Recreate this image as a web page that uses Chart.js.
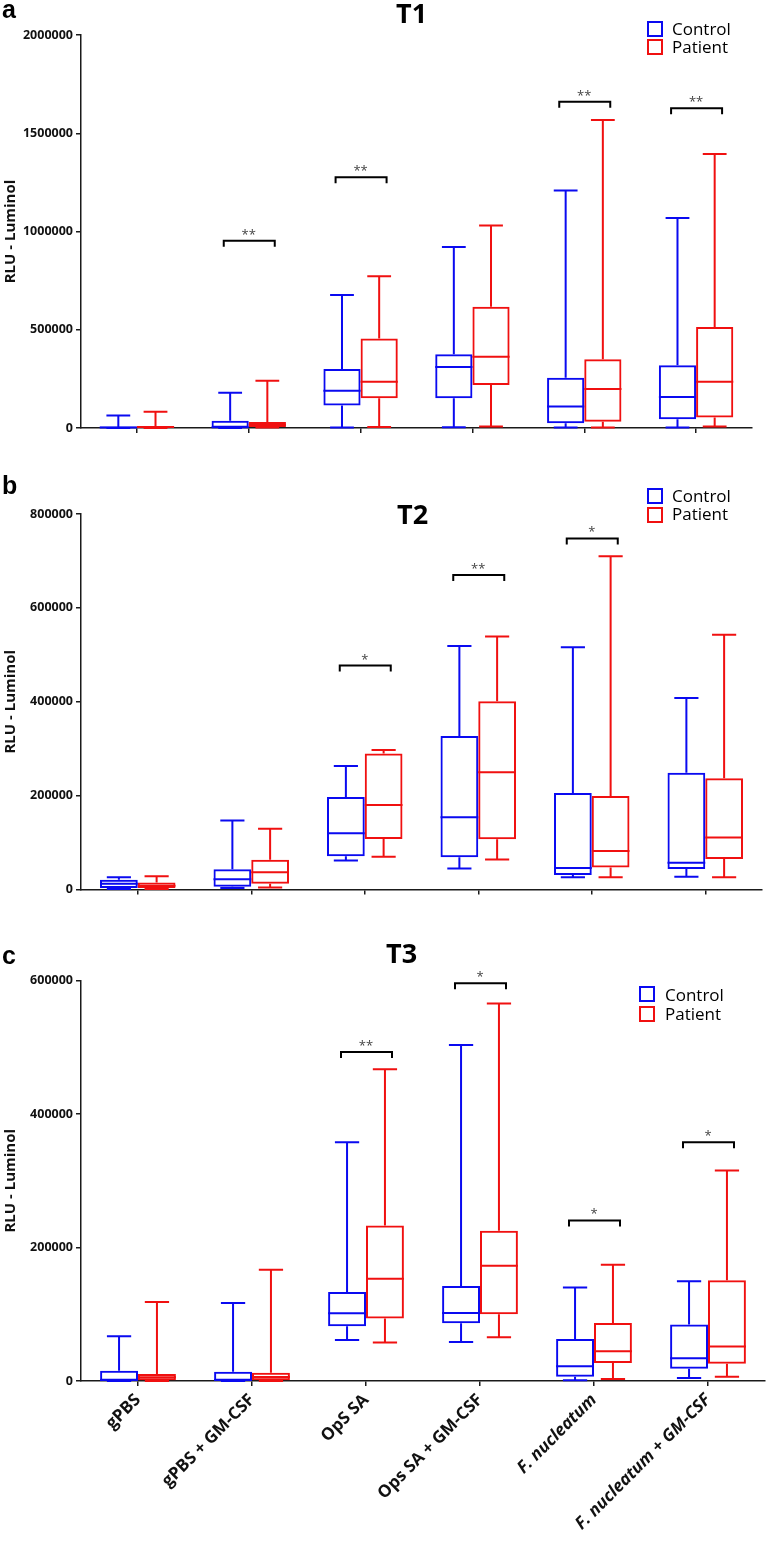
<!DOCTYPE html>
<html>
<head>
<meta charset="utf-8">
<script src="https://cdn.jsdelivr.net/npm/chart.js@4/dist/chart.umd.min.js"></script>
<style>
  body { margin: 0; background: #fff; }
  #page { position: relative; width: 767px; height: 1541px; overflow: hidden; }
  canvas { position: absolute; left: 0; }
  .letter { position: absolute; left: 2px; font: bold 25px "Liberation Sans", Arial, sans-serif; line-height: 25px; color: #000; }
  .title { position: absolute; font: bold 27px "Open Sans", sans-serif; line-height: 27px; color: #000; }
  .lg { position: absolute; font: 17px "Open Sans", sans-serif; line-height: 18px; color: #000; }
  .sw { position: absolute; width: 12px; height: 12px; border: 2px solid; }
</style>
</head>
<body>
<div id="page">
  <canvas id="t1" width="767" height="445" style="top:0px"></canvas>
  <canvas id="t2" width="767" height="455" style="top:455px"></canvas>
  <canvas id="t3" width="767" height="641" style="top:900px"></canvas>

  <div class="letter" style="top:-3px">a</div>
  <div class="letter" style="top:473px">b</div>
  <div class="letter" style="top:943px">c</div>

  <div class="title" style="left:396px; top:-1px">T1</div>
  <div class="title" style="left:397px; top:500px">T2</div>
  <div class="title" style="left:386px; top:939px">T3</div>

  <div class="sw" style="left:647px; top:21px; border-color:#0a0af0"></div>
  <div class="sw" style="left:647px; top:39px; border-color:#f01010"></div>
  <div class="lg" style="left:672px; top:20px">Control</div>
  <div class="lg" style="left:672px; top:38px">Patient</div>

  <div class="sw" style="left:647px; top:488px; border-color:#0a0af0"></div>
  <div class="sw" style="left:647px; top:507px; border-color:#f01010"></div>
  <div class="lg" style="left:672px; top:487px">Control</div>
  <div class="lg" style="left:672px; top:505px">Patient</div>

  <div class="sw" style="left:639px; top:986px; border-color:#0a0af0"></div>
  <div class="sw" style="left:639px; top:1006px; border-color:#f01010"></div>
  <div class="lg" style="left:665px; top:986px">Control</div>
  <div class="lg" style="left:665px; top:1005px">Patient</div>
</div>

<script>
// groups on the x axis
const categories = ['gPBS', 'gPBS + GM-CSF', 'OpS SA', 'Ops SA + GM-CSF', 'F. nucleatum', 'F. nucleatum + GM-CSF'];

// each entry: [min, q1, median, q3, max]
const t1Control = [
  [0, 500, 3000, 7000, 63000],
  [0, 1500, 4000, 37000, 180000],
  [3000, 115000, 190000, 300000, 677000],
  [4000, 151000, 310000, 375000, 921000],
  [2000, 24000, 110000, 256000, 1209000],
  [3000, 44000, 158000, 319000, 1069000]
];
const t1Patient = [
  [0, 1000, 5000, 10000, 83000],
  [2000, 5000, 17000, 30000, 241000],
  [5000, 151000, 236000, 456000, 772000],
  [8000, 219000, 363000, 617000, 1031000],
  [3000, 32000, 198000, 350000, 1567000],
  [8000, 54000, 236000, 514000, 1394000]
];
const t1Brackets = [null, 953000, 1276000, null, 1660000, 1627000];
const t1Stars = ['', '**', '**', '', '**', '**'];
const t1Ticks = [0, 500000, 1000000, 1500000, 2000000];

const t2Control = [
  [1000, 3000, 12000, 21000, 26000],
  [3000, 6000, 22000, 43000, 147000],
  [62000, 71000, 120000, 197000, 263000],
  [45000, 68600, 154000, 327000, 519000],
  [26000, 31000, 46000, 205500, 516000],
  [27000, 43600, 57000, 249000, 408000]
];
const t2Patient = [
  [1000, 3000, 8000, 15000, 28000],
  [4000, 12000, 36500, 63500, 129500],
  [70000, 107500, 180000, 290000, 297000],
  [64000, 107000, 250000, 401000, 539000],
  [26000, 47000, 82000, 199000, 710000],
  [26000, 65000, 111000, 237000, 543000]
];
const t2Brackets = [null, null, 477000, 670000, 748000, null];
const t2Stars = ['', '', '*', '**', '*', ''];
const t2Ticks = [0, 200000, 400000, 600000, 800000];

const t3Control = [
  [0, 500, 1500, 15500, 67000],
  [0, 500, 1500, 14000, 117000],
  [61500, 82000, 101500, 133500, 357500],
  [58500, 86500, 102000, 142500, 503500],
  [1000, 6500, 22000, 63000, 140000],
  [4500, 18500, 34000, 84500, 149500]
];
const t3Patient = [
  [0, 1000, 5500, 10500, 118500],
  [0, 1000, 6000, 12500, 166500],
  [57500, 93500, 153000, 233000, 467000],
  [65500, 100000, 172500, 225000, 565500],
  [3000, 27000, 44500, 87000, 174000],
  [6500, 26000, 51500, 151000, 315500]
];
const t3Brackets = [null, null, 493000, 596000, 240500, 357500];
const t3Stars = ['', '', '**', '*', '*', '*'];
const t3Ticks = [0, 200000, 400000, 600000];

const BLUE = '#0a0af0';
const RED = '#f01010';
const AXIS = '#1a1a1a';

// whiskers + median line on top of the floating bars
const boxPlot = {
  id: 'boxPlot',
  afterDatasetsDraw(chart) {
    const ctx = chart.ctx;
    const y = chart.scales.y;
    chart.data.datasets.forEach((ds, di) => {
      chart.getDatasetMeta(di).data.forEach((bar, i) => {
        const [min, q1, med, q3, max] = ds.stats[i];
        const half = bar.width / 2;
        const cap = bar.width * 0.32;
        ctx.save();
        ctx.strokeStyle = ds.borderColor;
        ctx.lineWidth = 2;
        ctx.beginPath();
        ctx.moveTo(bar.x - half, y.getPixelForValue(med));
        ctx.lineTo(bar.x + half, y.getPixelForValue(med));
        ctx.moveTo(bar.x, y.getPixelForValue(q3));
        ctx.lineTo(bar.x, y.getPixelForValue(max));
        ctx.moveTo(bar.x - cap, y.getPixelForValue(max));
        ctx.lineTo(bar.x + cap, y.getPixelForValue(max));
        ctx.moveTo(bar.x, y.getPixelForValue(q1));
        ctx.lineTo(bar.x, y.getPixelForValue(min));
        ctx.moveTo(bar.x - cap, y.getPixelForValue(min));
        ctx.lineTo(bar.x + cap, y.getPixelForValue(min));
        ctx.stroke();
        ctx.restore();
      });
    });
  }
};

// significance brackets with stars
const brackets = {
  id: 'brackets',
  afterDraw(chart, args, opts) {
    const ctx = chart.ctx;
    const x = chart.scales.x;
    const y = chart.scales.y;
    opts.levels.forEach((lvl, i) => {
      if (lvl === null) return;
      const xc = x.getPixelForValue(i);
      const yb = y.getPixelForValue(lvl);
      ctx.save();
      ctx.strokeStyle = '#000';
      ctx.lineWidth = 2;
      ctx.beginPath();
      ctx.moveTo(xc - 25, yb + 6);
      ctx.lineTo(xc - 25, yb);
      ctx.lineTo(xc + 26, yb);
      ctx.lineTo(xc + 26, yb + 6);
      ctx.stroke();
      ctx.fillStyle = '#444';
      ctx.font = '13px "Open Sans", sans-serif';
      ctx.textAlign = 'center';
      ctx.textBaseline = 'alphabetic';
      ctx.fillText(opts.stars[i], xc, yb - 2);
      ctx.restore();
    });
  }
};

function makePanel(id, control, patient, levels, stars, ticks, pad, xHeight, showLabels) {
  const ctx = document.getElementById(id).getContext('2d');
  return new Chart(ctx, {
    type: 'bar',
    data: {
      labels: categories,
      datasets: [
        { label: 'Control', data: control.map(s => [s[1], s[3]]), stats: control,
          backgroundColor: 'rgba(0,0,0,0)', borderColor: BLUE, borderWidth: 2, borderSkipped: false },
        { label: 'Patient', data: patient.map(s => [s[1], s[3]]), stats: patient,
          backgroundColor: 'rgba(0,0,0,0)', borderColor: RED, borderWidth: 2, borderSkipped: false }
      ]
    },
    options: {
      responsive: false,
      devicePixelRatio: 1,
      animation: false,
      layout: { padding: pad },
      datasets: { bar: { barPercentage: 1, categoryPercentage: 0.665 } },
      plugins: {
        legend: { display: false },
        tooltip: { enabled: false },
        brackets: { levels: levels, stars: stars }
      },
      scales: {
        x: {
          offset: true,
          grid: { offset: false, drawOnChartArea: false, drawTicks: true, tickLength: 5, color: AXIS, lineWidth: 1.5 },
          border: { color: AXIS, width: 1.5 },
          ticks: {
            display: showLabels,
            autoSkip: false,
            minRotation: 45,
            maxRotation: 45,
            padding: 4,
            color: '#111',
            font: c => ({
              family: '"Open Sans", sans-serif',
              size: 17,
              weight: 'bold',
              style: categories[c.index] && categories[c.index].startsWith('F.') ? 'italic' : 'normal'
            })
          },
          afterFit: s => { s.height = xHeight; }
        },
        y: {
          min: 0,
          max: ticks[ticks.length - 1],
          afterBuildTicks: s => { s.ticks = ticks.map(v => ({ value: v })); },
          grid: { drawOnChartArea: false, drawTicks: true, tickLength: 5, color: AXIS, lineWidth: 1.5 },
          border: { color: AXIS, width: 1.5 },
          ticks: {
            padding: 3,
            color: '#111',
            font: { family: '"Open Sans", sans-serif', size: 12.5, weight: 'bold' },
            callback: v => String(v)
          },
          title: {
            display: true,
            text: 'RLU - Luminol',
            color: '#111',
            padding: { top: 2, bottom: 0 },
            font: { family: '"Open Sans", sans-serif', size: 15, weight: 'bold' }
          },
          afterFit: s => { s.width = 81; }
        }
      }
    },
    plugins: [boxPlot, brackets]
  });
}

makePanel('t1', t1Control, t1Patient, t1Brackets, t1Stars, t1Ticks,
  { top: 35, bottom: 7, left: 0, right: 15 }, 10, false);
makePanel('t2', t2Control, t2Patient, t2Brackets, t2Stars, t2Ticks,
  { top: 59, bottom: 10.5, left: 0, right: 5 }, 10, false);
makePanel('t3', t3Control, t3Patient, t3Brackets, t3Stars, t3Ticks,
  { top: 80.5, bottom: 0, left: 0, right: 2 }, 160, true);
</script>
</body>
</html>
